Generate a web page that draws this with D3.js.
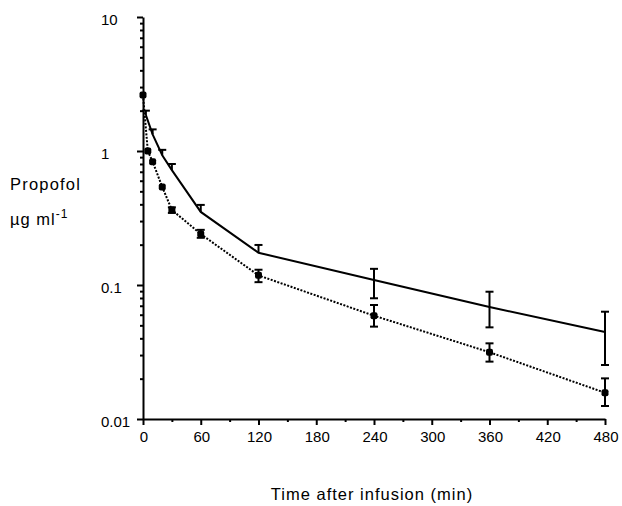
<!doctype html>
<html>
<head>
<script src="https://d3js.org/d3.v7.min.js"></script>
</head>
<body style="margin:0; background-color: white;">
<svg id="chart" width="622" height="506" style="background-color: white;"></svg>
<script>
// solid curve (upper group) - time in min, propofol in ug/ml
var timeA = [3, 10, 20, 30, 60, 120, 240, 360, 480]
var meanA = [1.85, 1.33, 0.93, 0.72, 0.351, 0.174, 0.109, 0.0685, 0.0446]
var hiA   = [2.0, 1.45, 1.02, 0.80, 0.396, 0.199, 0.132, 0.0891, 0.0632]
var loA   = [1.85, 1.33, 0.93, 0.72, 0.351, 0.174, 0.0796, 0.0483, 0.0253]

// dotted curve (lower group) with markers
var timeB = [0, 5, 10, 20, 30, 60, 120, 240, 360, 480]
var meanB = [2.62, 1.0, 0.832, 0.539, 0.363, 0.240, 0.118, 0.059, 0.0315, 0.0157]
var hiB   = [2.62, 1.0, 0.832, 0.539, 0.38, 0.258, 0.130, 0.0709, 0.0367, 0.0201]
var loB   = [2.62, 1.0, 0.832, 0.539, 0.345, 0.225, 0.105, 0.0489, 0.0268, 0.0125]

var xTicks = [0, 60, 120, 180, 240, 300, 360, 420, 480]
var xMinor = [30, 90, 150, 210, 270, 330, 390, 450]
var yTicks = [0.01, 0.1, 1, 10]
var yLabels = ["0.01", "0.1", "1", "10"]

var svg = d3.select("#chart")
var font = "'Liberation Sans', Arial, Helvetica, sans-serif"

var x = d3.scaleLinear().domain([0, 480]).range([143, 605])
var y = d3.scaleLog().domain([0.01, 10]).range([419, 17])

// minor y ticks 2..9 in every decade
var yMinor = []
yTicks.slice(0, 3).forEach(function(d) {
  for (var k = 2; k <= 9; k++) yMinor.push(d * k)
})

// ---- axes ----
svg.append("g")
  .attr("transform", "translate(0,419)")
  .call(d3.axisBottom(x).tickValues(xTicks).tickSize(6).tickSizeOuter(0).tickFormat(""))
svg.append("g")
  .attr("transform", "translate(0,419)")
  .call(d3.axisBottom(x).tickValues(xMinor).tickSize(3).tickSizeOuter(0).tickFormat(""))
  .select(".domain").remove()

svg.append("g")
  .attr("transform", "translate(143,0)")
  .call(d3.axisLeft(y).tickValues(yTicks).tickSize(6).tickSizeOuter(0).tickFormat(""))
svg.append("g")
  .attr("transform", "translate(143,0)")
  .call(d3.axisLeft(y).tickValues(yMinor).tickSize(3).tickSizeOuter(0).tickFormat(""))
  .select(".domain").remove()

svg.selectAll(".domain").attr("stroke", "black").attr("stroke-width", 2)
svg.selectAll(".tick line").attr("stroke", "black").attr("stroke-width", 2)

// tick labels
svg.append("g").selectAll("text")
  .data(xTicks)
  .enter().append("text")
  .attr("x", function(d) { return x(d) + 1 })
  .attr("y", 442)
  .attr("text-anchor", "middle")
  .style("font-family", font)
  .style("font-size", "15px")
  .text(function(d) { return d })

svg.append("g").selectAll("text")
  .data(yTicks)
  .enter().append("text")
  .attr("x", 101)
  .attr("y", function(d) { return y(d) + 8 })
  .style("font-family", font)
  .style("font-size", "15px")
  .text(function(d, i) { return yLabels[i] })

// axis titles
svg.append("text")
  .attr("x", 10).attr("y", 190)
  .style("font-family", font).style("font-size", "16.5px").style("letter-spacing", "1.2px")
  .text("Propofol")
var unit = svg.append("text")
  .attr("x", 10).attr("y", 225)
  .style("font-family", font).style("font-size", "16.5px").style("letter-spacing", "1px")
unit.append("tspan").text("\u00b5g ml")
unit.append("tspan").attr("dy", -7).style("font-size", "12px").text("-1")

svg.append("text")
  .attr("x", 372).attr("y", 500)
  .attr("text-anchor", "middle")
  .style("font-family", font).style("font-size", "16.5px").style("letter-spacing", "1px")
  .text("Time after infusion (min)")

// ---- data ----
var dataA = timeA.map(function(t, i) { return {t: t, m: meanA[i], hi: hiA[i], lo: loA[i]} })
var dataB = timeB.map(function(t, i) { return {t: t, m: meanB[i], hi: hiB[i], lo: loB[i]} })

var line = d3.line()
  .x(function(d) { return x(d.t) })
  .y(function(d) { return y(d.m) })

svg.append("path")
  .datum(dataA)
  .attr("d", line)
  .attr("fill", "none")
  .attr("stroke", "black")
  .attr("stroke-width", 2)

svg.append("path")
  .datum(dataB)
  .attr("d", line)
  .attr("fill", "none")
  .attr("stroke", "black")
  .attr("stroke-width", 2)
  .attr("stroke-dasharray", "2,1.5")

function errorBars(data) {
  var g = svg.append("g").attr("stroke", "black").attr("stroke-width", 2)
  data.forEach(function(d) {
    var cx = x(d.t)
    if (d.hi > d.m) {
      g.append("line").attr("x1", cx).attr("x2", cx).attr("y1", y(d.m)).attr("y2", y(d.hi))
      g.append("line").attr("x1", cx - 4).attr("x2", cx + 4).attr("y1", y(d.hi)).attr("y2", y(d.hi))
    }
    if (d.lo < d.m) {
      g.append("line").attr("x1", cx).attr("x2", cx).attr("y1", y(d.m)).attr("y2", y(d.lo))
      g.append("line").attr("x1", cx - 4).attr("x2", cx + 4).attr("y1", y(d.lo)).attr("y2", y(d.lo))
    }
  })
}
errorBars(dataA)
errorBars(dataB)

svg.append("g").selectAll("rect")
  .data(dataB)
  .enter().append("rect")
  .attr("x", function(d) { return x(d.t) - 3.5 })
  .attr("y", function(d) { return y(d.m) - 3.5 })
  .attr("width", 7)
  .attr("height", 7)
  .attr("rx", 2)
  .attr("fill", "black")
</script>
</body>
</html>
